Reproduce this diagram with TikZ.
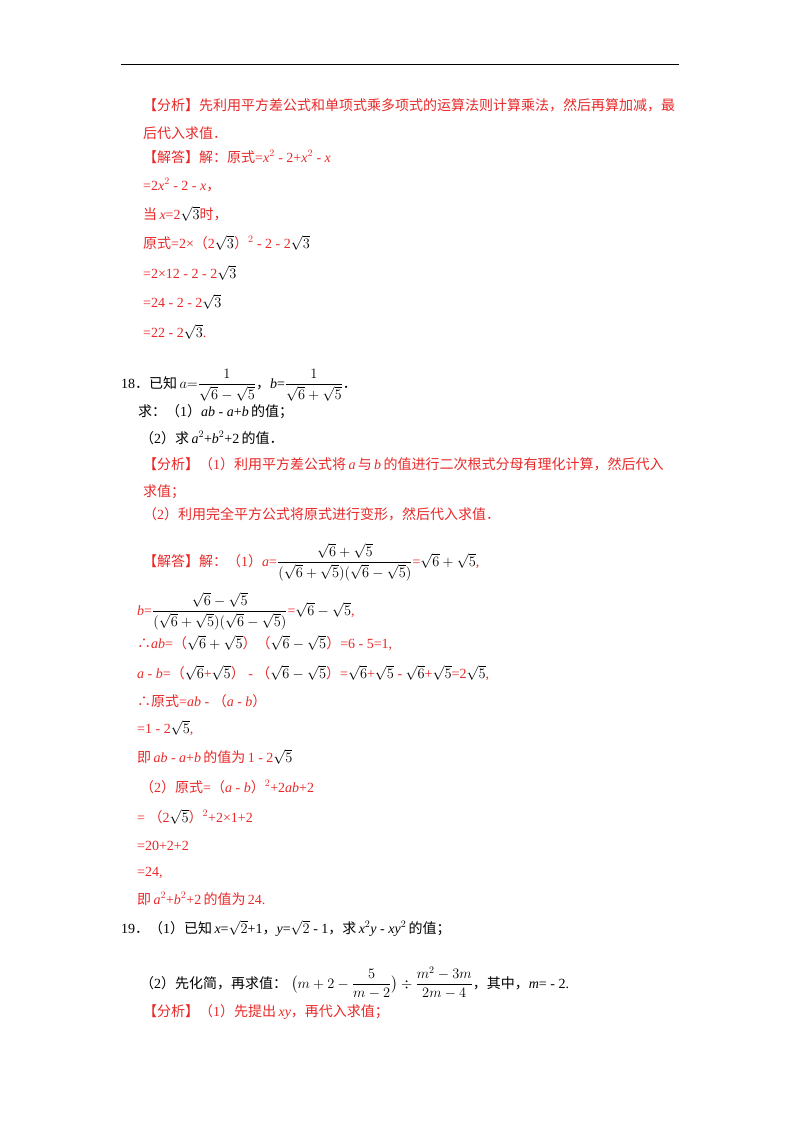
\documentclass[tikz,border=0pt]{standalone}
\usepackage{amsmath}
\usepackage{fontspec}
\setmainfont{Liberation Serif}
\newfontfamily\cjk{Noto Sans CJK SC}[Scale=1.0]
\newcommand\z[1]{{\cjk #1}}
\definecolor{rd}{RGB}{232,40,40}
\tikzset{ln/.style={anchor=base west,inner sep=0pt,font=\fontsize{14}{16}\selectfont},
r/.style={ln,text=rd}}
\begin{document}
\begin{tikzpicture}[x=1pt,y=-1pt]
\useasboundingbox (0,0) rectangle (800,1132);
\draw[line width=0.8pt] (121,64) coordinate(L1) -- (679,64) coordinate(L2);
\node[r] (t1) at (143,110) {\z{【分析】先利用平方差公式和单项式乘多项式的运算法则计算乘法，然后再算加减，最}};
\node[r] (t2) at (143,138) {\z{后代入求值．}};
\node[r] (t3) at (143,162) {\z{【解答】解：原式}=\textit{x}$^2$ - 2+\textit{x}$^2$ - \textit{x}};
\node[r] (t4) at (143,190) {=2\textit{x}$^2$ - 2 - \textit{x}\z{，}};
\node[r] (t5) at (143,219) {\z{当}\,\textit{x}=2\textcolor{black}{$\sqrt3$}\z{时，}};
\node[r] (t6) at (143,248) {\z{原式}=2×\z{（}2\textcolor{black}{$\sqrt3$}\z{）}$^2$ - 2 - 2\textcolor{black}{$\sqrt3$}};
\node[r] (t7) at (143,278) {=2×12 - 2 - 2\textcolor{black}{$\sqrt3$}};
\node[r] (t8) at (143,307) {=24 - 2 - 2\textcolor{black}{$\sqrt3$}};
\node[r] (t9) at (143,337) {=22 - 2\textcolor{black}{$\sqrt3$}.};
\node[ln] (q18) at (121,388) {18\z{．已知}\,$a{=}\dfrac{1}{\sqrt6-\sqrt5}$\z{，}\textit{b}=$\dfrac{1}{\sqrt6+\sqrt5}$\z{．}};
\node[ln] (q18a) at (138,416) {\z{求：（}1\z{）}\textit{ab} - \textit{a}+\textit{b}\,\z{的值；}};
\node[ln] (q18b) at (140,443) {\z{（}2\z{）求}\,\textit{a}$^2$+\textit{b}$^2$+2\,\z{的值．}};
\node[r] (a1) at (143,469) {\z{【分析】（}1\z{）利用平方差公式将}\,\textit{a}\,\z{与}\,\textit{b}\,\z{的值进行二次根式分母有理化计算，然后代入}};
\node[r] (a2) at (143,496) {\z{求值；}};
\node[r] (a3) at (143,519) {\z{（}2\z{）利用完全平方公式将原式进行变形，然后代入求值．}};
\node[r] (s1) at (143,566) {\z{【解答】解：（}1\z{）}\textit{a}=\textcolor{black}{$\dfrac{\sqrt6+\sqrt5}{(\sqrt6+\sqrt5)(\sqrt6-\sqrt5)}$}=\textcolor{black}{$\sqrt6+\sqrt5$},};
\node[r] (s2) at (137,615) {\textit{b}=\textcolor{black}{$\dfrac{\sqrt6-\sqrt5}{(\sqrt6+\sqrt5)(\sqrt6-\sqrt5)}$}=\textcolor{black}{$\sqrt6-\sqrt5$},};
\node[r] (s3) at (137,648) {\z{∴}\textit{ab}=\z{（}\textcolor{black}{$\sqrt6+\sqrt5$}\z{）（}\textcolor{black}{$\sqrt6-\sqrt5$}\z{）}=6 - 5=1,};
\node[r] (s4) at (137,678) {\textit{a} - \textit{b}=\z{（}\textcolor{black}{$\sqrt6$}+\textcolor{black}{$\sqrt5$}\z{）} - \z{（}\textcolor{black}{$\sqrt6-\sqrt5$}\z{）}=\textcolor{black}{$\sqrt6$}+\textcolor{black}{$\sqrt5$} - \textcolor{black}{$\sqrt6$}+\textcolor{black}{$\sqrt5$}=2\textcolor{black}{$\sqrt5$},};
\node[r] (s5) at (137,706) {\z{∴原式}=\textit{ab} - \z{（}\textit{a} - \textit{b}\z{）}};
\node[r] (s6) at (137,733) {=1 - 2\textcolor{black}{$\sqrt5$},};
\node[r] (s7) at (137,762) {\z{即}\,\textit{ab} - \textit{a}+\textit{b}\,\z{的值为}\,1 - 2\textcolor{black}{$\sqrt5$}};
\node[r] (s8) at (140,792) {\z{（}2\z{）原式}=\z{（}\textit{a} - \textit{b}\z{）}$^2$+2\textit{ab}+2};
\node[r] (s9) at (137,822) {= \z{（}2\textcolor{black}{$\sqrt5$}\z{）}$^2$+2×1+2};
\node[r] (s10) at (137,850) {=20+2+2};
\node[r] (s11) at (137,876) {=24,};
\node[r] (s12) at (137,904) {\z{即}\,\textit{a}$^2$+\textit{b}$^2$+2\,\z{的值为}\,24.};
\node[ln] (q19) at (121,933) {19\z{．（}1\z{）已知}\,\textit{x}=$\sqrt2$+1\z{，}\textit{y}=$\sqrt2$ - 1\z{，求}\,\textit{x}$^2$\textit{y} - \textit{xy}$^2$\,\z{的值；}};
\node[ln] (q19b) at (140,988) {\z{（}2\z{）先化简，再求值：}\;$\bigl(m+2-\dfrac{5}{m-2}\bigr)\div\dfrac{m^2-3m}{2m-4}$\z{，其中，}\textit{m}= - 2.};
\node[r] (a19) at (143,1016) {\z{【分析】（}1\z{）先提出}\,\textit{xy}\z{，再代入求值；}};
\end{tikzpicture}
\end{document}
